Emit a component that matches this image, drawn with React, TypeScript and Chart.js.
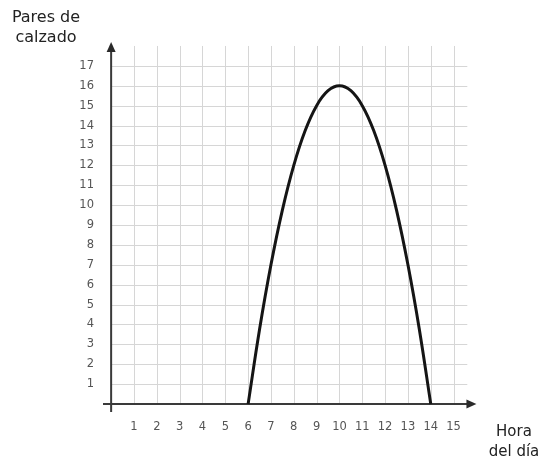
import React, { useEffect, useRef } from "react";
import { Chart, registerables } from "chart.js";

Chart.register(...registerables);

// Data
const hours = [6, 6.5, 7, 7.5, 8, 8.5, 9, 9.5, 10, 10.5, 11, 11.5, 12, 12.5, 13, 13.5, 14];
const pairs = [0, 3.75, 7, 9.75, 12, 13.75, 15, 15.75, 16, 15.75, 15, 13.75, 12, 9.75, 7, 3.75, 0];
const xTickValues = [1, 2, 3, 4, 5, 6, 7, 8, 9, 10, 11, 12, 13, 14, 15];
const yTickValues = [1, 2, 3, 4, 5, 6, 7, 8, 9, 10, 11, 12, 13, 14, 15, 16, 17];
const yAxisTitle = ["Pares de", "calzado"];
const xAxisTitle = ["Hora", "del día"];

const X_MIN = -0.4;
const X_MAX = 16.2;
const Y_MIN = -0.4;
const Y_MAX = 18.3;
const GRID_X_END = 15.6;
const GRID_Y_END = 18;
const ARROW_X = 16;
const ARROW_Y = 18.2;

const gridAxesPlugin = {
  id: "gridAxes",
  beforeDatasetsDraw(chart: any) {
    const { ctx } = chart;
    const xs = chart.scales.x;
    const ys = chart.scales.y;
    const x0 = xs.getPixelForValue(0);
    const y0 = ys.getPixelForValue(0);
    ctx.save();
    ctx.strokeStyle = "#d6d6d6";
    ctx.lineWidth = 1;
    ctx.beginPath();
    xTickValues.forEach((v) => {
      const px = Math.round(xs.getPixelForValue(v)) + 0.5;
      ctx.moveTo(px, y0);
      ctx.lineTo(px, ys.getPixelForValue(GRID_Y_END));
    });
    yTickValues.forEach((v) => {
      const py = Math.round(ys.getPixelForValue(v)) + 0.5;
      ctx.moveTo(x0, py);
      ctx.lineTo(xs.getPixelForValue(GRID_X_END), py);
    });
    ctx.stroke();

    // axes
    ctx.strokeStyle = "#3a3a3a";
    ctx.fillStyle = "#2a2a2a";
    ctx.lineWidth = 2;
    const xTip = xs.getPixelForValue(ARROW_X);
    const yTip = ys.getPixelForValue(ARROW_Y);
    ctx.beginPath();
    ctx.moveTo(xs.getPixelForValue(X_MIN) + 1, y0);
    ctx.lineTo(xTip - 6, y0);
    ctx.moveTo(x0, ys.getPixelForValue(Y_MIN));
    ctx.lineTo(x0, yTip + 6);
    ctx.stroke();
    ctx.beginPath();
    ctx.moveTo(xTip, y0);
    ctx.lineTo(xTip - 10, y0 - 4.5);
    ctx.lineTo(xTip - 10, y0 + 4.5);
    ctx.closePath();
    ctx.fill();
    ctx.beginPath();
    ctx.moveTo(x0, yTip);
    ctx.lineTo(x0 - 4.5, yTip + 10);
    ctx.lineTo(x0 + 4.5, yTip + 10);
    ctx.closePath();
    ctx.fill();

    // titles
    ctx.fillStyle = "#222";
    ctx.textAlign = "center";
    ctx.textBaseline = "middle";
    ctx.font = '16px "DejaVu Sans"';
    ctx.fillText(yAxisTitle[0], 46, 18);
    ctx.fillText(yAxisTitle[1], 46, 38);
    ctx.font = '15px "DejaVu Sans"';
    ctx.fillText(xAxisTitle[0], 514, 432);
    ctx.fillText(xAxisTitle[1], 514, 452);
    ctx.restore();
  },
};

export default function App() {
  const ref = useRef<HTMLCanvasElement | null>(null);
  useEffect(() => {
    if (!ref.current) return;
    const chart = new Chart(ref.current, {
      type: "scatter",
      data: {
        datasets: [
          {
            data: hours.map((h, i) => ({ x: h, y: pairs[i] })),
            showLine: true,
            borderColor: "#151515",
            borderWidth: 3,
            pointRadius: 0,
            tension: 0.4,
            fill: false,
          },
        ],
      },
      options: {
        animation: false,
        responsive: false,
        devicePixelRatio: 1,
        layout: { padding: { top: 40, right: 63, left: 0, bottom: 0 } },
        plugins: { legend: { display: false }, tooltip: { enabled: false } },
        scales: {
          x: {
            type: "linear",
            min: X_MIN,
            max: X_MAX,
            grid: { display: false },
            border: { display: false },
            afterBuildTicks: (s: any) => {
              s.ticks = xTickValues.map((v) => ({ value: v }));
            },
            afterFit: (s: any) => {
              s.height = 50;
            },
            ticks: {
              padding: 0,
              autoSkip: false,
              maxRotation: 0,
              color: "#555",
              font: { family: "DejaVu Sans", size: 11.5 },
              callback: (v: any) => String(v),
            },
          },
          y: {
            type: "linear",
            min: Y_MIN,
            max: Y_MAX,
            grid: { display: false },
            border: { display: false },
            afterBuildTicks: (s: any) => {
              s.ticks = yTickValues.map((v) => ({ value: v }));
            },
            afterFit: (s: any) => {
              s.width = 102;
            },
            ticks: {
              padding: 0,
              autoSkip: false,
              color: "#555",
              font: { family: "DejaVu Sans", size: 11.5 },
              callback: (v: any) => String(v),
            },
          },
        },
      },
      plugins: [gridAxesPlugin],
    } as any);
    return () => chart.destroy();
  }, []);
  return (
    <div style={{ position: "fixed", left: 0, top: 0, width: 544, height: 462, background: "#fff" }}>
      <canvas ref={ref} width={544} height={462} style={{ width: 544, height: 462 }} />
    </div>
  );
}
